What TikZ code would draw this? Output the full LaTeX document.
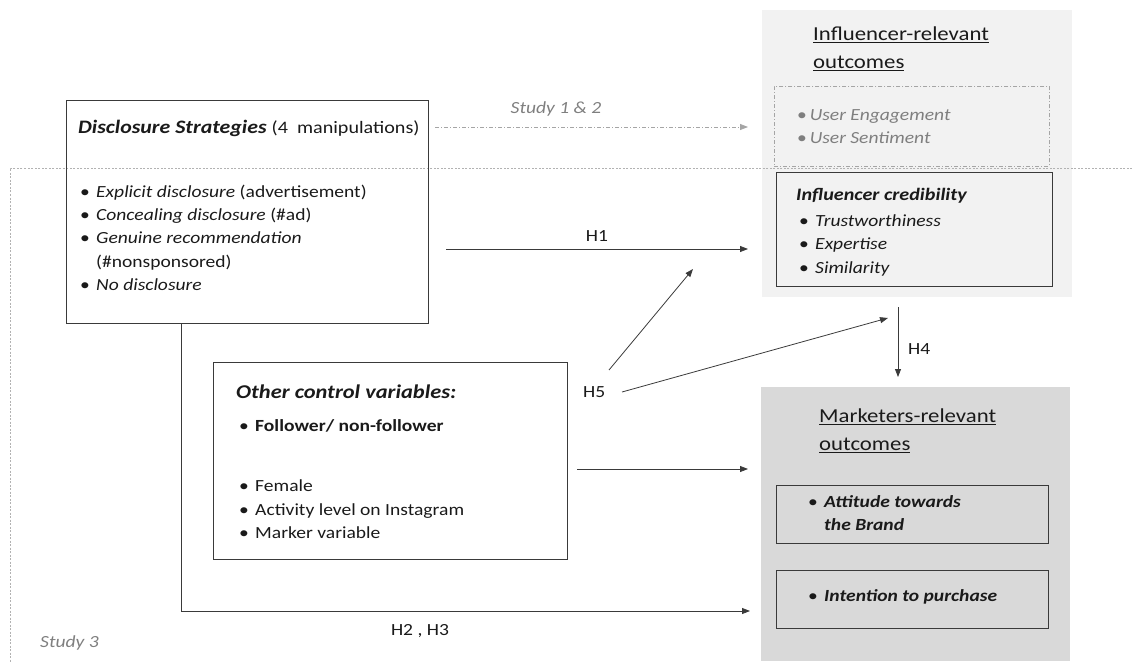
\documentclass[tikz,border=0pt]{standalone}
\usepackage{fontspec}
\setmainfont{Carlito}[FakeStretch=1.15]
\usetikzlibrary{arrows.meta}
\definecolor{panelA}{HTML}{F2F2F2}
\definecolor{panelB}{HTML}{D9D9D9}
\definecolor{edge}{HTML}{3A3A3A}
\definecolor{ink}{HTML}{1A1A1A}
\definecolor{soft}{HTML}{7F7F7F}
\newcommand\bl{\makebox[16pt][l]{\textbullet}}
\begin{document}
\begin{tikzpicture}[x=1pt,y=-1pt,
  box/.style={draw=edge,line width=0.9pt,fill=none,inner sep=0,anchor=north west},
  panel/.style={draw=none,inner sep=0,anchor=north west},
  txt/.style={inner sep=0,anchor=north west,align=left,text=ink,font=\fontsize{17}{23.3}\selectfont},
  one/.style={inner sep=0,anchor=west,text=ink,font=\fontsize{17}{23}\selectfont},
  lbl/.style={inner sep=0,text=ink,font=\fontsize{17}{20}\selectfont},
  arr/.style={draw=edge,line width=0.8pt,-{Triangle[length=8pt,width=6pt]}},
  softarr/.style={draw=soft!70,line width=0.8pt,dash pattern=on 4pt off 2pt on 1pt off 2pt,-{Triangle[length=8pt,width=6pt]}},
  dotline/.style={draw=soft!60,line width=0.6pt,dash pattern=on 2pt off 1.5pt}]
\useasboundingbox (0,0) rectangle (1132,663);
% panels
\node[panel,fill=panelA,minimum width=310,minimum height=287] (infp) at (762,10) {};
\node[panel,fill=panelB,minimum width=309,minimum height=274] (mktp) at (761,387) {};
% study 3 frame
\coordinate (fa) at (10,168);
\coordinate (fb) at (1132,168);
\coordinate (fc) at (10,663);
\draw[dotline] (fb) -- (fa) -- (fc);
% disclosure box
\node[box,minimum width=362,minimum height=223] (disc) at (66,100) {};
\node[one] (disct) at (78,128) {\fontsize{19}{23}\selectfont\textbf{\textit{Disclosure Strategies}} \fontsize{17.5}{23}\selectfont(4~ manipulations)};
\node[txt] (discl) at (80,184.5) {\bl\textit{Explicit disclosure} (advertisement)\\ \bl\textit{Concealing disclosure} (\#ad)\\ \bl\textit{Genuine recommendation}\\ \hspace*{16pt}(\#nonsponsored)\\ \bl\textit{No disclosure}};
% influencer panel content
\node[inner sep=0,anchor=north west,align=left,text=ink,font=\fontsize{19.8}{28}\selectfont] (inft) at (813,26.3) {\underline{Influencer-relevant}\\ \underline{outcomes}};
\node[box,draw=soft!70,line width=0.7pt,dash pattern=on 4pt off 2pt on 1pt off 2pt,minimum width=275,minimum height=80] (ue) at (774,86) {};
\node[txt,text=soft,font=\fontsize{17}{23}\selectfont] (uel) at (797,109.5) {\textbullet\,\textit{User Engagement}\\ \textbullet\,\textit{User Sentiment}};
\node[box,minimum width=276,minimum height=114] (cred) at (776,172) {};
\node[one,font=\fontsize{17.5}{23}\selectfont] (credt) at (796,196) {\textbf{\textit{Influencer credibility}}};
\node[txt] (credl) at (799,214.5) {\bl\textit{Trustworthiness}\\ \bl\textit{Expertise}\\ \bl\textit{Similarity}};
% marketers panel content
\node[inner sep=0,anchor=north west,align=left,text=ink,font=\fontsize{19.8}{28}\selectfont] (mktt) at (819,408.3) {\underline{Marketers-relevant}\\ \underline{outcomes}};
\node[box,minimum width=272,minimum height=58] (att) at (776,485) {};
\node[txt] (attl) at (808,495.5) {\bl\textbf{\textit{Attitude towards}}\\ \hspace*{16pt}\textbf{\textit{the Brand}}};
\node[box,minimum width=272,minimum height=58] (int) at (776,570) {};
\node[txt] (intl) at (808,589.5) {\bl\textbf{\textit{Intention to purchase}}};
% control box
\node[box,minimum width=354,minimum height=197] (ctl) at (213,362) {};
\node[one,font=\fontsize{19.5}{23}\selectfont] (ctlt) at (236,392) {\textbf{\textit{Other control variables:}}};
\node[txt] (ctlf) at (239,419.5) {\bl\textbf{Follower/ non-follower}};
\node[txt,font=\fontsize{17}{23.5}\selectfont] (ctll) at (239,479.5) {\bl Female\\ \bl Activity level on Instagram\\ \bl Marker variable};
% connector coordinates
\coordinate (s1a) at (435,127);
\coordinate (s1b) at (748,127);
\coordinate (h1a) at (446,249);
\coordinate (h1b) at (748,249);
\coordinate (cva) at (577,469);
\coordinate (cvb) at (748,469);
\coordinate (dd) at (181,611);
\coordinate (ddb) at (750,611);
\coordinate (h5a) at (609,370);
\coordinate (h5b) at (693,269);
\coordinate (h5c) at (622,392);
\coordinate (h5d) at (888,318);
\coordinate (h4a) at (898,307);
\coordinate (h4b) at (898,377);
% connectors
\draw[softarr] (s1a) -- (s1b);
\node[lbl,text=soft] (s12) at (556,109) {\textit{Study 1 \& 2}};
\draw[arr] (h1a) -- (h1b);
\node[lbl] (h1) at (597,236) {H1};
\draw[arr] (disc.south -| dd) -- (dd) -- (ddb);
\node[lbl] (h23) at (420,631) {H2 , H3};
\draw[arr] (cva) -- (cvb);
\node[lbl,anchor=west] (h5) at (583,392) {H5};
\draw[arr] (h5a) -- (h5b);
\draw[arr] (h5c) -- (h5d);
\draw[arr] (h4a) -- (h4b);
\node[lbl,anchor=west] (h4) at (908,349) {H4};
\node[lbl,text=soft,anchor=west] (s3) at (40,643) {\textit{Study 3}};
\end{tikzpicture}
\end{document}
